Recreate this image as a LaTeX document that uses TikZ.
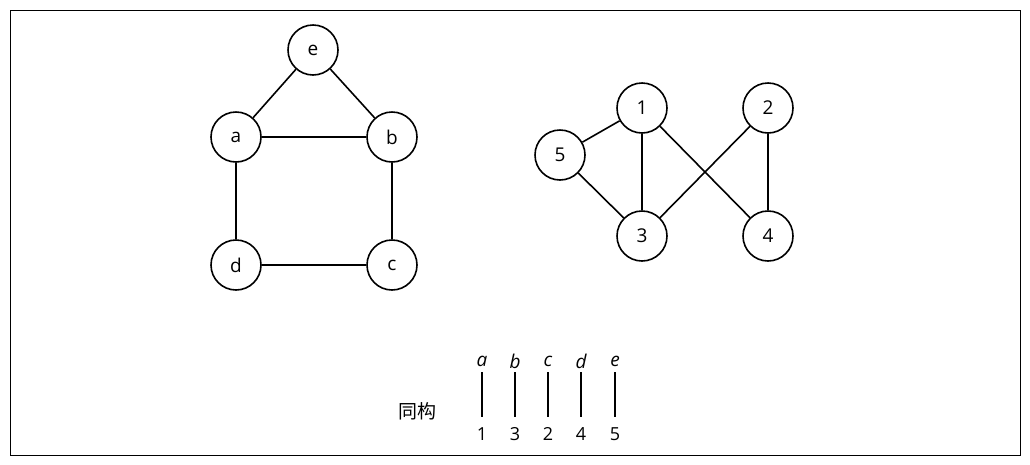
\documentclass[tikz,border=0pt]{standalone}
\usepackage{fontspec}
\setmainfont{Open Sans}
\newfontfamily\cjk{Noto Sans CJK SC}
\begin{document}
\begin{tikzpicture}[x=1pt,y=-1pt,
  vtx/.style={circle,draw,line width=1.6pt,minimum size=50pt,inner sep=0pt,font=\fontsize{19}{22}\selectfont},
  edge/.style={line width=1.6pt},
  lab/.style={font=\fontsize{19}{22}\selectfont\itshape,inner sep=0pt},
  num/.style={font=\fontsize{18}{21}\selectfont,inner sep=0pt}]
\useasboundingbox (0,0) rectangle (1030,464);
\draw[line width=1pt] (10,10) rectangle (1020,455);
\node[vtx] (e) at (313,50) {e};
\node[vtx] (a) at (236,137) {a};
\node[vtx] (b) at (392,137) {b};
\node[vtx] (d) at (236,265) {d};
\node[vtx] (c) at (392,265) {c};
\draw[edge] (e)--(a) (e)--(b) (a)--(b) (a)--(d) (b)--(c) (d)--(c);
\node[vtx] (n1) at (642,108) {1};
\node[vtx] (n2) at (768,108) {2};
\node[vtx] (n5) at (560,155) {5};
\node[vtx] (n3) at (642,236) {3};
\node[vtx] (n4) at (768,236) {4};
\draw[edge] (n1)--(n5) (n1)--(n3) (n1)--(n4) (n5)--(n3) (n2)--(n3) (n2)--(n4);
\node[font=\cjk\fontsize{19}{22}\selectfont] (iso) at (417,411) {同构};
\foreach \x/\l/\n [count=\i] in {482/a/1,515/b/3,548/c/2,581/d/4,615/e/5}{
  \node[lab] (l\i) at (\x,361) {\l};
  \node[num] (m\i) at (\x,434) {\n};
  \draw[line width=1.5pt] (\x,372) -- (\x,417);
}
\end{tikzpicture}
\end{document}
